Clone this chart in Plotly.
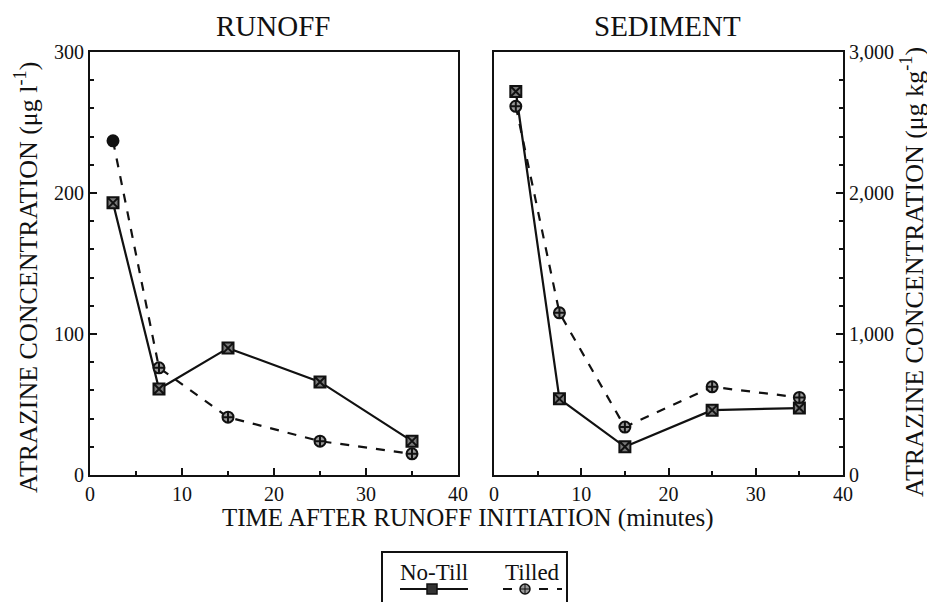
import plotly.graph_objects as go

time_min = [2.5, 7.5, 15, 25, 35]
runoff_notill = [193, 61, 90, 66, 24]
runoff_tilled = [237, 76, 41, 24, 15]
sed_notill = [2720, 540, 200, 460, 475]
sed_tilled = [2615, 1150, 340, 625, 550]

left_ticks = [0, 100, 200, 300]
right_ticks = [0, 1000, 2000, 3000]
x_ticks = [0, 10, 20, 30, 40]
series_names = ["No-Till", "Tilled"]

FONT = "Liberation Serif"
BLACK = "#111111"

# page has an 8px body margin; figure is sized/placed to compensate
OFF = 8
W, H = 935 - OFF, 602 - OFF
PL, PR, PT, PB = 90, 843, 52, 475  # target plot box in window pixels
ml, mr, mt = PL - OFF, W - (PR - OFF), PT - OFF
mb = H - (PB - OFF)
pw, ph = PR - PL, PB - PT


def px(xw):
    return (xw - PL) / pw


def py(yw):
    return (PB - yw) / ph


notill_marker = dict(symbol="square-x", size=11, color="#7a7a7a",
                     line=dict(color=BLACK, width=2))
tilled_marker_r = dict(symbol="circle-cross", size=11,
                       color=[BLACK, "#9a9a9a", "#9a9a9a", "#9a9a9a", "#9a9a9a"],
                       line=dict(color=BLACK, width=2))
tilled_marker = dict(symbol="circle-cross", size=11, color="#9a9a9a",
                     line=dict(color=BLACK, width=2))

fig = go.Figure()
fig.add_trace(go.Scatter(x=time_min, y=runoff_notill, mode="lines+markers",
                         name=series_names[0], line=dict(color=BLACK, width=2.2),
                         marker=notill_marker, xaxis="x", yaxis="y"))
fig.add_trace(go.Scatter(x=time_min, y=runoff_tilled, mode="lines+markers",
                         name=series_names[1], line=dict(color=BLACK, width=2.2, dash="dash"),
                         marker=tilled_marker_r, xaxis="x", yaxis="y"))
fig.add_trace(go.Scatter(x=time_min, y=sed_notill, mode="lines+markers",
                         name=series_names[0],
                         line=dict(color=BLACK, width=2.2),
                         marker=notill_marker, xaxis="x2", yaxis="y2"))
fig.add_trace(go.Scatter(x=time_min, y=sed_tilled, mode="lines+markers",
                         name=series_names[1],
                         line=dict(color=BLACK, width=2.2, dash="dash"),
                         marker=tilled_marker, xaxis="x2", yaxis="y2"))

axis_common = dict(showgrid=False, zeroline=False, showline=True, linecolor=BLACK,
                   linewidth=2, mirror=True, ticks="inside", tickcolor=BLACK,
                   tickwidth=2, tickfont=dict(family=FONT, size=20, color=BLACK))

fig.update_layout(
    width=W, height=H, autosize=False,
    margin=dict(l=ml, r=mr, t=mt, b=mb, autoexpand=False),
    plot_bgcolor="white", paper_bgcolor="white",
    font=dict(family=FONT, color=BLACK),
    showlegend=False,
    xaxis=dict(domain=[0, px(458)], range=[0, 40], tickvals=x_ticks, ticklen=7,
               minor=dict(dtick=5, ticks="inside", ticklen=4, tickcolor=BLACK), **axis_common),
    yaxis=dict(range=[0, 300], tickvals=left_ticks, ticklen=7, anchor="x",
               minor=dict(dtick=20, ticks="inside", ticklen=4, tickcolor=BLACK), **axis_common),
    xaxis2=dict(domain=[px(494), 1], range=[0, 40], tickvals=x_ticks, ticklen=7, anchor="y2",
                minor=dict(dtick=5, ticks="inside", ticklen=4, tickcolor=BLACK), **axis_common),
    yaxis2=dict(range=[0, 3000], tickvals=right_ticks, tickformat=",", ticklen=7,
                side="right", anchor="x2",
                minor=dict(dtick=200, ticks="inside", ticklen=4, tickcolor=BLACK), **axis_common),
)

annots = [
    dict(text="RUNOFF", x=px(273), y=py(26), size=29),
    dict(text="SEDIMENT", x=px(667), y=py(26), size=29),
    dict(text="TIME AFTER RUNOFF INITIATION (minutes)", x=px(468), y=py(518), size=25),
    dict(text="ATRAZINE CONCENTRATION (\u03bcg l<sup>-1</sup>)", x=px(26), y=py(278),
         textangle=-90, size=26),
    dict(text="ATRAZINE CONCENTRATION (\u03bcg kg<sup>-1</sup>)", x=px(912), y=py(272),
         textangle=-90, size=26),
    # legend labels
    dict(text=series_names[0], x=px(434), y=py(572), size=23),
    dict(text=series_names[1], x=px(532), y=py(572), size=23),
]
for a in annots:
    size = a.pop("size")
    fig.add_annotation(xref="paper", yref="paper", showarrow=False,
                       xanchor="center", yanchor="middle",
                       font=dict(family=FONT, color=BLACK, size=size), **a)

# custom legend frame and keys (text above key line, as in the original)
ly = py(589)
shapes = [
    dict(type="path", path=f"M {px(382)} {py(610)} L {px(382)} {py(552)} L {px(567)} {py(552)} L {px(567)} {py(610)}",
         line=dict(color=BLACK, width=2)),
    dict(type="line", x0=px(400), x1=px(468), y0=ly, y1=ly, line=dict(color=BLACK, width=2.2)),
    dict(type="rect", x0=px(427), x1=px(437), y0=py(594), y1=py(584),
         fillcolor="#333333", line=dict(color=BLACK, width=1.5)),
    dict(type="line", x0=px(503), x1=px(562), y0=ly, y1=ly,
         line=dict(color=BLACK, width=2.2, dash="dash")),
    dict(type="circle", x0=px(520), x1=px(530), y0=py(594), y1=py(584),
         fillcolor="#9a9a9a", line=dict(color=BLACK, width=1.5)),
    dict(type="line", x0=px(525), x1=px(525), y0=py(594), y1=py(584), line=dict(color=BLACK, width=1)),
    dict(type="line", x0=px(520), x1=px(530), y0=ly, y1=ly, line=dict(color=BLACK, width=1)),
]
for s in shapes:
    fig.add_shape(xref="paper", yref="paper", **s)

fig.write_html("out.html")
